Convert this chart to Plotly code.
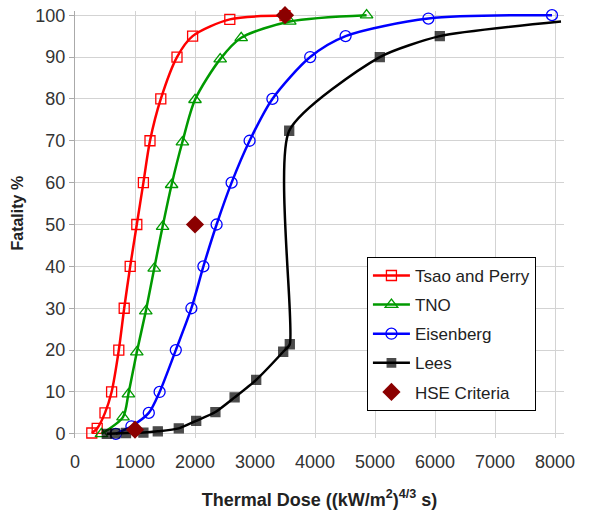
import plotly.graph_objects as go

# Tsao and Perry
tp_x = [280, 370, 500, 610, 730, 820, 920, 1030, 1140, 1250, 1430, 1700, 1960, 2580, 3500]
tp_y = [0.2, 1.3, 5, 10, 20, 30, 40, 50, 60, 70, 80, 90, 95, 99, 99.9]
# TNO
tno_x = [440, 800, 890, 1030, 1180, 1320, 1460, 1610, 1790, 2000, 2420, 2770, 3580, 4860]
tno_y = [0, 4, 9.5, 19.5, 29.3, 39.5, 49.5, 59.5, 69.7, 79.8, 89.5, 94.6, 98.5, 100]
# Eisenberg
eis_x = [680, 940, 1230, 1410, 1680, 1940, 2140, 2360, 2610, 2910, 3290, 3920, 4510, 5890, 7950]
eis_y = [0, 1.8, 5, 10, 20, 30, 40, 50, 60, 70, 80, 90, 95, 99.2, 100]
# Lees
lees_x = [530, 670, 850, 1140, 1380, 1730, 2020, 2340, 2660, 3020, 3470, 3580, 3570, 5080, 6080, 8100]
lees_y = [0, 0.1, 0.2, 0.3, 0.6, 1.3, 3.1, 5.2, 8.7, 12.9, 19.6, 21.4, 72.4, 90, 95, 98.5]
# HSE Criteria
hse_x = [1000, 2000, 3500]
hse_y = [1, 50, 100]

x_ticks = [0, 1000, 2000, 3000, 4000, 5000, 6000, 7000, 8000]
y_ticks = [0, 10, 20, 30, 40, 50, 60, 70, 80, 90, 100]

fig = go.Figure()

def add_series(name, xs, ys, color, symbol, size, lw=2.5, sizes=None, smoothing=0.8):
    fig.add_trace(go.Scatter(
        x=xs, y=ys, name=name, mode="lines+markers",
        line=dict(color=color, width=lw, shape="spline", smoothing=smoothing),
        marker=dict(symbol=symbol, size=sizes if sizes is not None else size, color=color,
                    line=dict(color=color, width=1.3)),
        cliponaxis=False, legendgroup=name,
    ))

add_series("Tsao and Perry", tp_x, tp_y, "#FF0000", "square-open", 10)
add_series("TNO", tno_x, tno_y, "#009A00", "triangle-up-open", 11)
add_series("Eisenberg", eis_x, eis_y, "#0000FF", "circle-open", 11)
lees_sizes = [9] * (len(lees_x) - 1) + [0]
add_series("Lees", lees_x, lees_y, "#000000", "square", 9, sizes=lees_sizes, smoothing=0.6)

fig.add_trace(go.Scatter(
    x=hse_x, y=hse_y, name="HSE Criteria", mode="markers",
    marker=dict(symbol="diamond", size=14, color="#8B0000"),
    cliponaxis=False, legendgroup="HSE Criteria",
))

fig.add_annotation(
    text="<b>Fatality %</b>", textangle=-90,
    xref="paper", yref="paper", x=-0.1166, y=0.528,
    xanchor="center", yanchor="middle", showarrow=False,
    font=dict(size=16, color="#222222"),
)

fig.update_layout(
    width=591, height=515,
    margin=dict(l=75, r=27, t=11, b=77, autoexpand=False),
    paper_bgcolor="white", plot_bgcolor="white",
    font=dict(family="Liberation Sans, Arial, sans-serif", color="#222222"),
    showlegend=True,
    legend=dict(
        x=0.597, y=0.424,
        xanchor="left", yanchor="top",
        bordercolor="#000000", borderwidth=1, bgcolor="white",
        font=dict(size=17, color="#222222"),
        tracegroupgap=4, itemwidth=37,
    ),
    xaxis=dict(
        range=[0, 8150], tickvals=x_ticks, ticktext=[str(v) for v in x_ticks],
        showgrid=True, gridcolor="#D3D3D3", gridwidth=1,
        zeroline=False, showline=False, tickangle=0,
        tickfont=dict(size=18, color="#333333"),
        ticks="outside", ticklen=7, tickcolor="rgba(0,0,0,0)",
        title=dict(text="<b>Thermal Dose ((kW/m<sup>2</sup>)<sup>4/3</sup> s)</b>",
                   font=dict(size=18, color="#222222"), standoff=22),
    ),
    yaxis=dict(
        range=[-1, 101], tickvals=y_ticks, ticktext=[str(v) for v in y_ticks],
        showgrid=True, gridcolor="#D3D3D3", gridwidth=1,
        zeroline=False, showline=True, linecolor="#AAAAAA", linewidth=1,
        ticks="outside", ticklen=5, tickcolor="#AAAAAA",
        tickfont=dict(size=18, color="#333333"),
    ),
)

fig.write_html("out.html")
